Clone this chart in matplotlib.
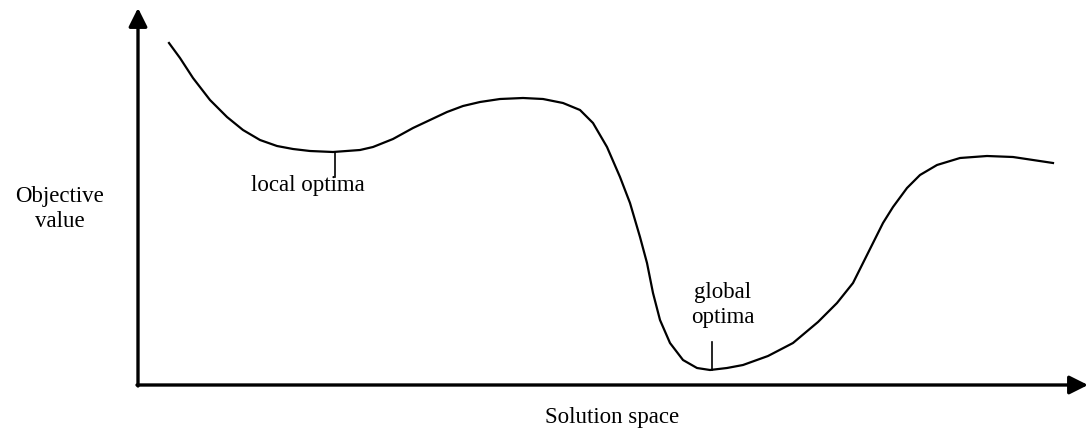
import matplotlib.pyplot as plt
import numpy as np

# Curve (x: solution space, y: objective value, in figure pixels)
x_sol = [169, 180, 193, 210, 227, 243, 260, 277, 293, 310, 333, 360, 373, 393, 413, 430,
         447, 463, 480, 500, 523, 543, 563, 580, 593, 607, 620, 630, 640, 647, 653, 660,
         670, 683, 697, 710, 727, 743, 768, 793, 818, 837, 853, 863, 873, 883, 893, 907,
         920, 937, 960, 987, 1013, 1033, 1053]
y_obj = [390, 375, 355, 333, 316, 303, 293, 287, 284, 282, 281, 283, 286, 294, 305, 313,
         321, 327, 331, 334, 335, 334, 330, 323, 310, 286, 256, 230, 196, 170, 140, 113,
         90, 73, 65, 63, 65, 68, 77, 90, 111, 130, 150, 170, 190, 210, 226, 245,
         258, 268, 275, 277, 276, 273, 270]

local_x, local_y = 335, 281
global_x, global_y = 712, 63

plt.rcParams['font.family'] = ['Liberation Serif', 'DejaVu Serif']

fig = plt.figure(figsize=(10.88, 4.33), dpi=100)
ax = fig.add_axes([0, 0, 1, 1])
ax.set_xlim(0, 1088)
ax.set_ylim(0, 433)
ax.axis('off')

arrow = dict(arrowstyle='-|>', lw=2.4, color='black', mutation_scale=28, shrinkA=0, shrinkB=0)
ax.annotate('', xy=(138, 425), xytext=(138, 47), arrowprops=arrow)
ax.annotate('', xy=(1088, 48), xytext=(137, 48), arrowprops=arrow)

ax.plot(x_sol, y_obj, color='black', lw=1.6, solid_joinstyle='round')

# markers for the optima
ax.plot([local_x, local_x], [local_y, local_y - 25], color='black', lw=1.2)
ax.plot([global_x, global_x], [global_y, global_y + 28], color='black', lw=1.2)

fs = 16.5
ax.text(308, 247, 'local optima', ha='center', va='center', fontsize=fs)
ax.text(723, 128, 'global\noptima', ha='center', va='center', fontsize=fs, linespacing=1.2)
ax.text(60, 224, 'Objective\nvalue', ha='center', va='center', fontsize=fs, linespacing=1.2)
ax.text(612, 16, 'Solution space', ha='center', va='center', fontsize=fs)

fig.savefig('out.png', dpi=100)
